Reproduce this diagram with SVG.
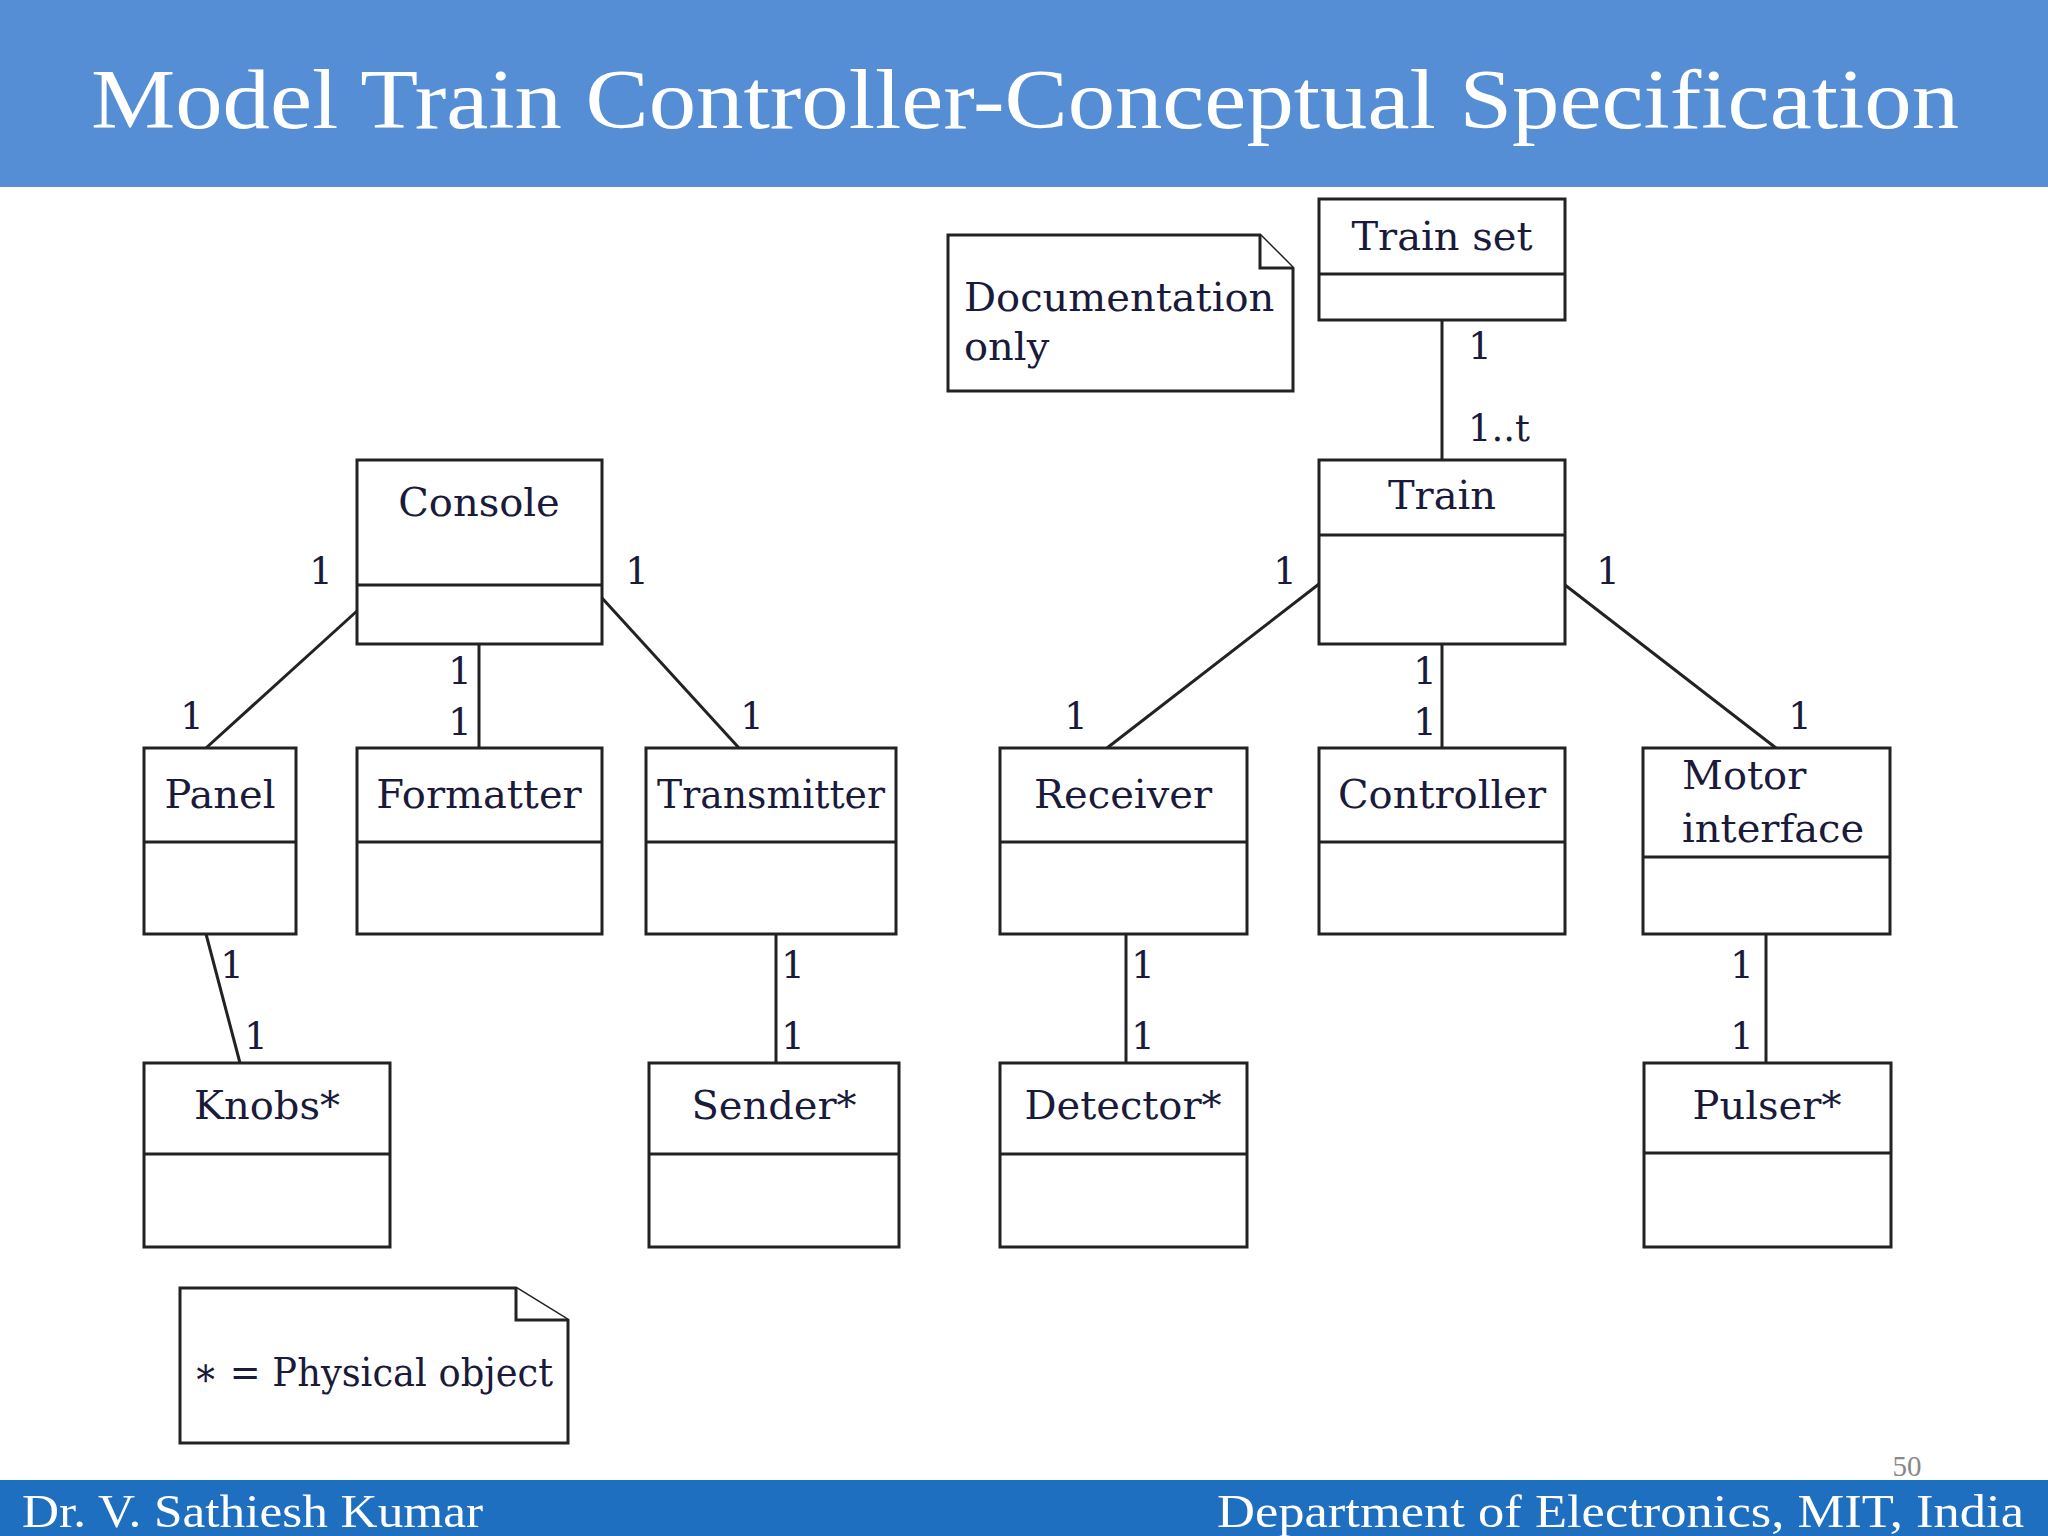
<svg xmlns="http://www.w3.org/2000/svg" width="2048" height="1536" viewBox="0 0 2048 1536">
<style>
.b{fill:#fff;stroke:#222;stroke-width:3}
.d{stroke:#222;stroke-width:3}
.t{font-family:"DejaVu Serif",serif;font-size:40px;fill:#1a1a3a;text-anchor:middle}
.l{font-family:"DejaVu Serif",serif;font-size:37px;fill:#1a1a3a;text-anchor:middle}
.c line{stroke:#222;stroke-width:3}
</style>
<rect width="2048" height="1536" fill="#fff"/>
<rect x="0" y="0" width="2048" height="187" fill="#558ED5"/>
<text x="91" y="128" font-family="Liberation Serif,serif" font-size="85" fill="#fff" textLength="1868" lengthAdjust="spacingAndGlyphs">Model Train Controller-Conceptual Specification</text>
<rect x="0" y="1480" width="2048" height="56" fill="#1F6FC0"/>
<text x="22" y="1527" font-family="Liberation Serif,serif" font-size="46" fill="#fff" textLength="461" lengthAdjust="spacingAndGlyphs">Dr. V. Sathiesh Kumar</text>
<text x="1217" y="1527" font-family="Liberation Serif,serif" font-size="46" fill="#fff" textLength="807" lengthAdjust="spacingAndGlyphs">Department of Electronics, MIT, India</text>
<text x="1907" y="1476" font-family="Liberation Serif,serif" font-size="29" fill="#888" text-anchor="middle">50</text>

<g class="c" id="connectors">
<line x1="1442" y1="320" x2="1442" y2="460"/>
<line x1="357" y1="611" x2="206" y2="748"/>
<line x1="479" y1="644" x2="479" y2="748"/>
<line x1="602" y1="598" x2="739" y2="748"/>
<line x1="1319" y1="584" x2="1107" y2="748"/>
<line x1="1442" y1="644" x2="1442" y2="748"/>
<line x1="1565" y1="585" x2="1776" y2="748"/>
<line x1="206" y1="934" x2="240" y2="1063"/>
<line x1="776" y1="934" x2="776" y2="1063"/>
<line x1="1126" y1="934" x2="1126" y2="1063"/>
<line x1="1766" y1="934" x2="1766" y2="1063"/>
</g>
<g id="labels" class="l">
<text x="1480" y="359">1</text><text x="1499" y="441">1..t</text>
<text x="321" y="584">1</text><text x="637" y="584">1</text>
<text x="460" y="684">1</text><text x="460" y="735">1</text>
<text x="192" y="729">1</text><text x="752" y="729">1</text>
<text x="1285" y="584">1</text><text x="1608" y="584">1</text>
<text x="1076" y="729">1</text>
<text x="1425" y="684">1</text><text x="1425" y="735">1</text>
<text x="1800" y="729">1</text>
<text x="232" y="978">1</text><text x="256" y="1049">1</text>
<text x="793" y="978">1</text><text x="793" y="1049">1</text>
<text x="1143" y="978">1</text><text x="1143" y="1049">1</text>
<text x="1742" y="978">1</text><text x="1742" y="1049">1</text>
</g>

<g id="doc"><path class="b" d="M948,235 H1260 L1293,268 V391 H948 Z"/><path class="b" d="M1260,235 V268 H1293" fill="none"/>
<text x="964" y="311" class="t" style="text-anchor:start">Documentation</text>
<text x="964" y="360" class="t" style="text-anchor:start">only</text></g>
<g id="trainset"><rect class="b" x="1319" y="199" width="246" height="121"/><line class="d" x1="1319" y1="274" x2="1565" y2="274"/><text class="t" x="1442" y="250">Train set</text></g>
<g id="train"><rect class="b" x="1319" y="460" width="246" height="184"/><line class="d" x1="1319" y1="535" x2="1565" y2="535"/><text class="t" x="1442" y="509">Train</text></g>
<g id="console"><rect class="b" x="357" y="460" width="245" height="184"/><line class="d" x1="357" y1="585" x2="602" y2="585"/><text class="t" x="479" y="516">Console</text></g>
<g id="panel"><rect class="b" x="144" y="748" width="152" height="186"/><line class="d" x1="144" y1="842" x2="296" y2="842"/><text class="t" x="220" y="808">Panel</text></g>
<g id="formatter"><rect class="b" x="357" y="748" width="245" height="186"/><line class="d" x1="357" y1="842" x2="602" y2="842"/><text class="t" x="479" y="808">Formatter</text></g>
<g id="transmitter"><rect class="b" x="646" y="748" width="250" height="186"/><line class="d" x1="646" y1="842" x2="896" y2="842"/><text class="t" x="771" y="808" textLength="228" lengthAdjust="spacingAndGlyphs">Transmitter</text></g>
<g id="receiver"><rect class="b" x="1000" y="748" width="247" height="186"/><line class="d" x1="1000" y1="842" x2="1247" y2="842"/><text class="t" x="1123" y="808">Receiver</text></g>
<g id="controller"><rect class="b" x="1319" y="748" width="246" height="186"/><line class="d" x1="1319" y1="842" x2="1565" y2="842"/><text class="t" x="1442" y="808">Controller</text></g>
<g id="motor"><rect class="b" x="1643" y="748" width="247" height="186"/><line class="d" x1="1643" y1="857" x2="1890" y2="857"/><text class="t" x="1682" y="789" style="text-anchor:start">Motor</text><text class="t" x="1682" y="842" style="text-anchor:start">interface</text></g>
<g id="knobs"><rect class="b" x="144" y="1063" width="246" height="184"/><line class="d" x1="144" y1="1154" x2="390" y2="1154"/><text class="t" x="267" y="1119">Knobs*</text></g>
<g id="sender"><rect class="b" x="649" y="1063" width="250" height="184"/><line class="d" x1="649" y1="1154" x2="899" y2="1154"/><text class="t" x="774" y="1119">Sender*</text></g>
<g id="detector"><rect class="b" x="1000" y="1063" width="247" height="184"/><line class="d" x1="1000" y1="1154" x2="1247" y2="1154"/><text class="t" x="1123" y="1119">Detector*</text></g>
<g id="pulser"><rect class="b" x="1644" y="1063" width="247" height="184"/><line class="d" x1="1644" y1="1153" x2="1891" y2="1153"/><text class="t" x="1767" y="1119">Pulser*</text></g>
<g id="physical"><path class="b" d="M180,1288 H516 L568,1320 V1443 H180 Z"/><path class="b" d="M516,1288 V1320 H568" fill="none"/>
<text class="t" x="193" y="1386" style="text-anchor:start" textLength="360" lengthAdjust="spacingAndGlyphs">∗ = Physical object</text></g>
</svg>
